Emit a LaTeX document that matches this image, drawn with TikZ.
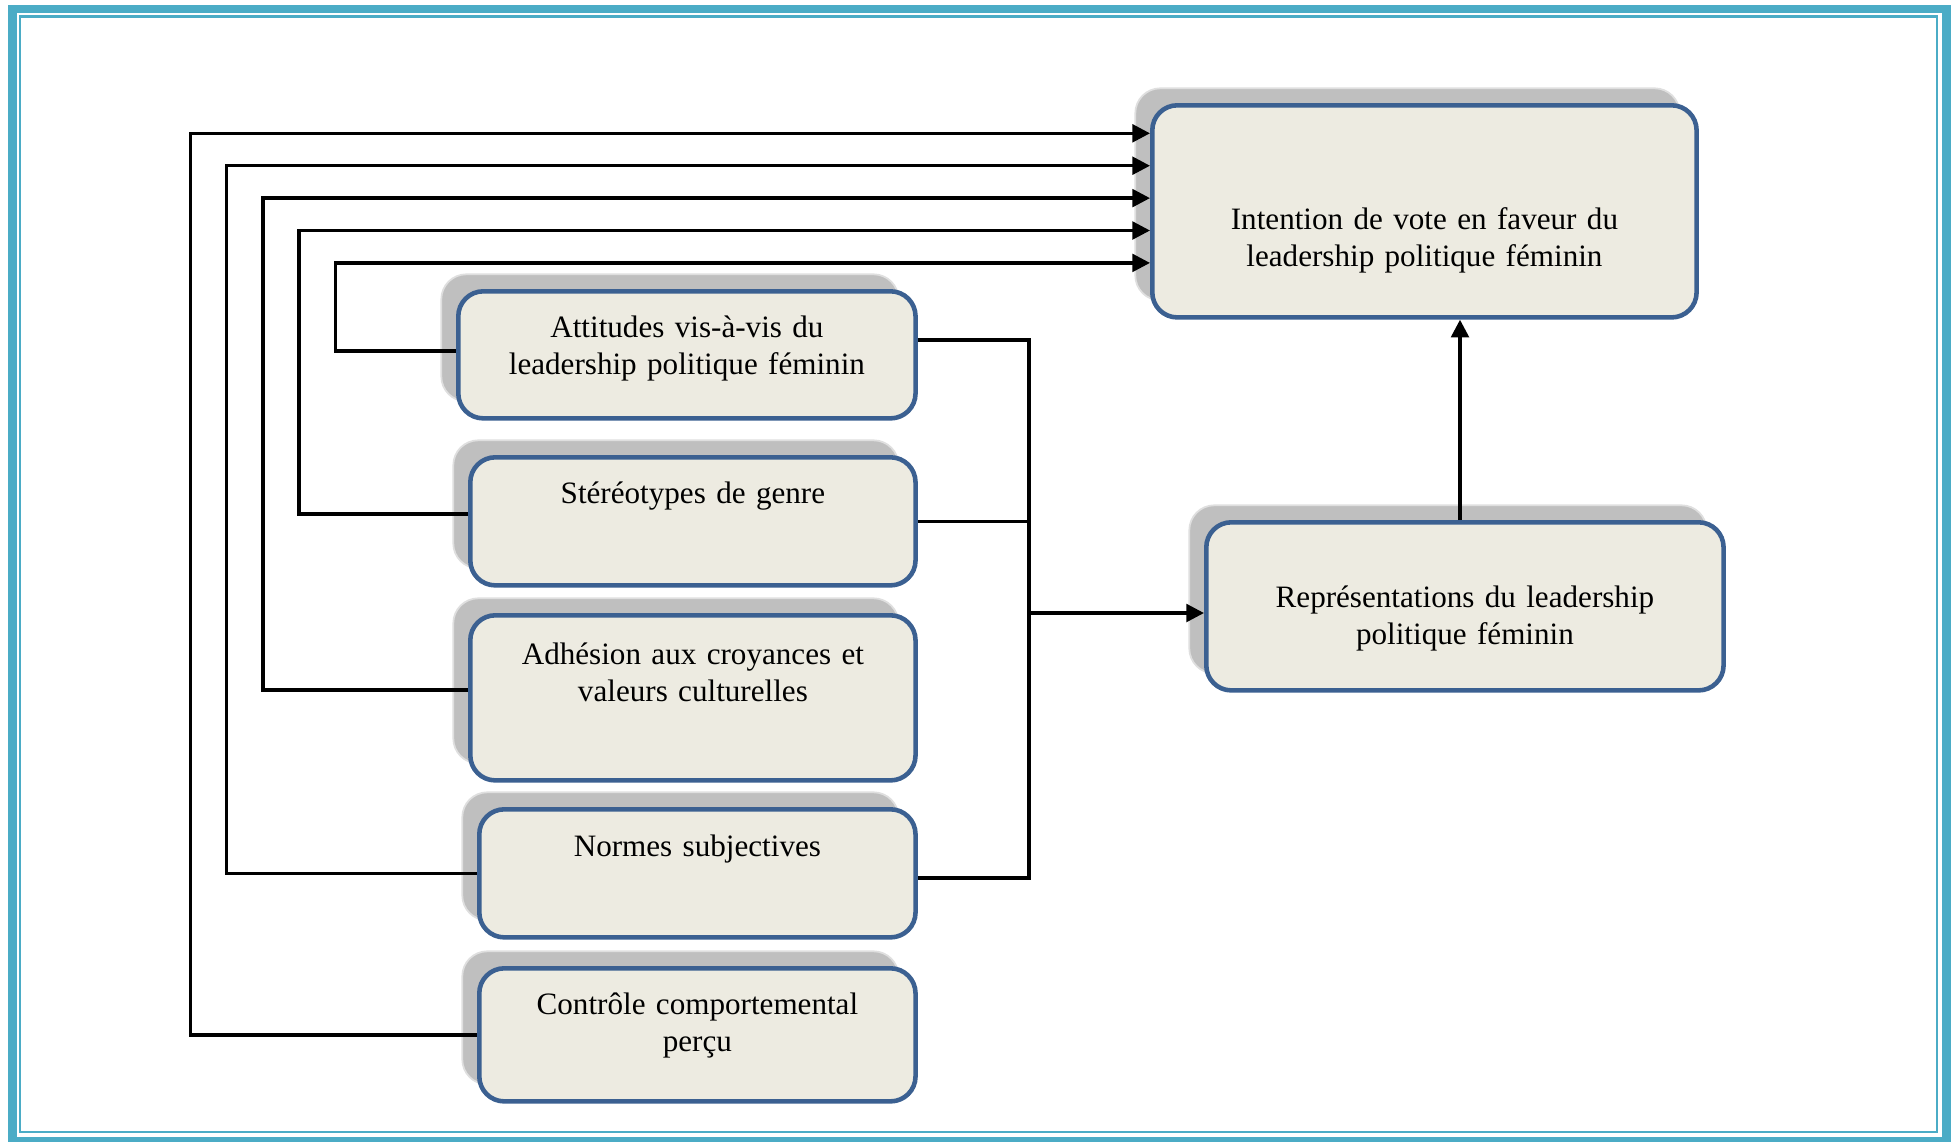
\documentclass[tikz,border=0pt]{standalone}
\usepackage{fontspec}
\setmainfont{Liberation Serif}
\usepackage{tikz}
\usetikzlibrary{arrows.meta,shadows,calc}
\definecolor{frameblue}{RGB}{75,172,198}
\definecolor{boxfill}{RGB}{237,235,225}
\definecolor{boxedge}{RGB}{59,96,145}
\definecolor{shadowgray}{RGB}{191,191,191}

\begin{document}
\begin{tikzpicture}[x=0.01cm,y=-0.01cm,
  boite/.style={draw=boxedge, line width=1.3pt, fill=boxfill, rounded corners=0.25cm,
    anchor=north west, inner sep=0pt, align=center, font=\fontsize{8.85}{10.6}\selectfont,
    general shadow={fill=shadowgray, draw=gray!25, line width=0.5pt,
      shadow xshift=-0.17cm, shadow yshift=0.17cm}},
  ligne/.style={line width=0.95pt},
  fleche/.style={line width=0.95pt, -{Triangle[length=5pt,width=5pt]}}]
\useasboundingbox (0,0) rectangle (1954,1141);
% cadre
\draw[frameblue, line width=0.085cm] (12.5,9) rectangle (1946.5,1141);
\draw[frameblue, line width=0.025cm] (20,16.5) rectangle (1937,1132);

% boites
\node[boite, text width=5.44cm, text height=1.24cm, text depth=0.88cm] (int) at (1150,103)
  {Intention de vote en faveur du\\leadership politique féminin};
\node[boite, text width=5.17cm, text height=0.85cm, text depth=0.83cm] (rep) at (1204,520)
  {Représentations du leadership\\politique féminin};
\node[boite, text width=4.57cm, text height=0.46cm, text depth=0.81cm] (att) at (456,289)
  {Attitudes vis-à-vis du\\leadership politique féminin};
\node[boite, text width=4.45cm, text height=0.46cm, text depth=0.82cm] (ste) at (468,455)
  {Stéréotypes de genre};
\node[boite, text width=4.45cm, text height=0.49cm, text depth=1.16cm] (adh) at (468,613)
  {Adhésion aux croyances et\\valeurs culturelles};
\node[boite, text width=4.36cm, text height=0.47cm, text depth=0.81cm] (nor) at (477,807)
  {Normes subjectives};
\node[boite, text width=4.36cm, text height=0.46cm, text depth=0.87cm] (con) at (477,966)
  {Contrôle comportemental\\perçu};

% liens directs vers l'intention
\coordinate (k1) at (190.6,133.3);
\coordinate (k2) at (226.8,165.7);
\coordinate (k3) at (262.9,198.1);
\coordinate (k4) at (299,230.5);
\coordinate (k5) at (335.2,262.9);
\draw[fleche] (con.west) -| (k1) -- (k1 -| int.west);
\draw[fleche] (nor.west) -| (k2) -- (k2 -| int.west);
\draw[fleche] ($(adh.west)+(0,-8)$) -| (k3) -- (k3 -| int.west);
\draw[fleche] ($(ste.west)+(0,-7.5)$) -| (k4) -- (k4 -| int.west);
\draw[fleche] ($(att.west)+(0,-4)$) -| (k5) -- (k5 -| int.west);

% bus vers les representations
\coordinate (bh) at (1029,340);
\coordinate (bb) at (1029,878);
\coordinate (bm) at (1029,613);
\draw[ligne] (bh -| att.east) -- (bh) -- (bb) -- (bb -| nor.east);
\draw[ligne] (ste.east) -- (ste.east -| bh);
\draw[ligne] ($(adh.east)+(0,2)$) -- ($(adh.east)+(0,2)$ -| bh);
\draw[fleche] (bm) -- (bm -| rep.west);

\coordinate (ax) at (1460,0);
\draw[fleche] (rep.north -| ax) -- (int.south -| ax);
\end{tikzpicture}
\end{document}
